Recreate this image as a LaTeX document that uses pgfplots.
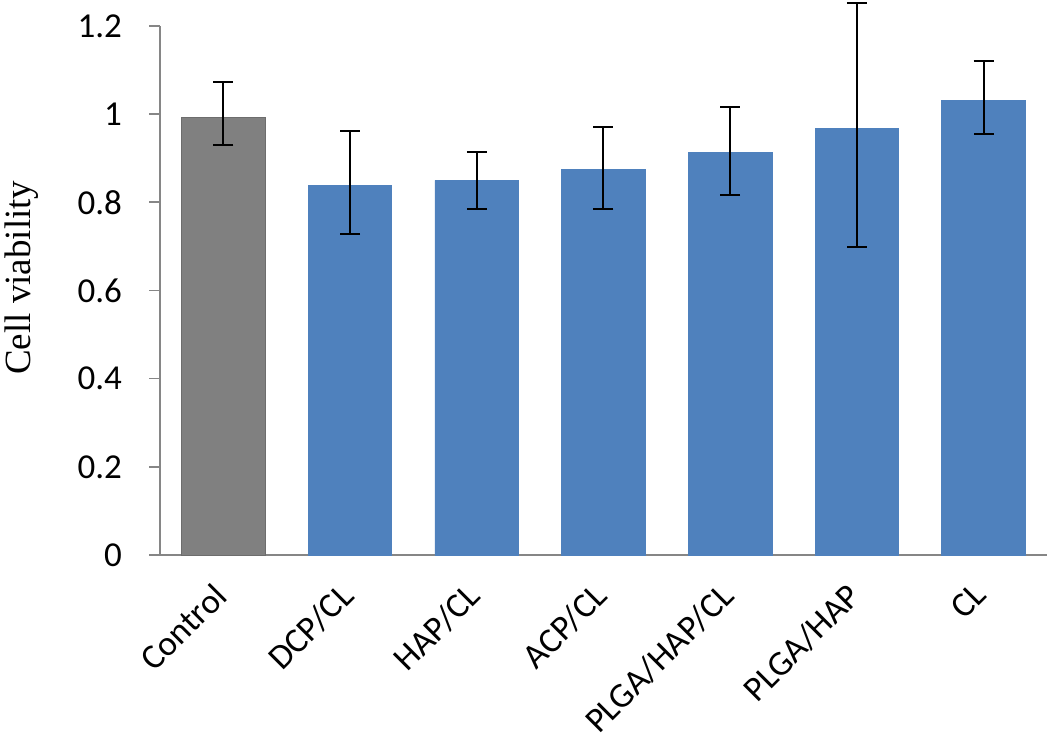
\documentclass[border=0pt]{standalone}
\usepackage{pgfplots}
\pgfplotsset{compat=1.18}
\usepackage{fontspec}
\setmainfont{Carlito}
\newfontfamily\seriffont{Liberation Serif}
\definecolor{barblue}{HTML}{4F81BD}
\definecolor{bargray}{HTML}{808080}
\definecolor{axisgray}{HTML}{868686}

\begin{document}
\begin{tikzpicture}
\begin{axis}[
	scale only axis,
	width=443.5pt,
	height=264.5pt,
	ymin=0, ymax=1.2,
	xmin=-0.5, xmax=6.5,
	ytick={0,0.2,...,1.2},
	xtick={0,...,6},
	xticklabels={Control,DCP/CL,HAP/CL,ACP/CL,PLGA/HAP/CL,PLGA/HAP,CL},
	extra x ticks={-0.5,0.5,...,6.5},
	extra x tick labels={},
	extra x tick style={major tick length=5.5pt, tick style={axisgray, line width=0.8pt}},
	axis x line*=bottom,
	axis y line*=left,
	axis line style={axisgray, line width=0.8pt, -},
	tick align=outside,
	x tick style={draw=none},
	y tick style={axisgray, line width=0.8pt},
	major tick length=5.5pt,
	tick label style={font=\fontsize{17.5}{20}\selectfont},
	/pgf/number format/assume math mode=true,
	yticklabel style={/pgf/number format/fixed, xshift=-10pt},
	xticklabel style={rotate=45, anchor=north east, yshift=2.3pt, xshift=-6pt},
	ylabel={Cell viability},
	ylabel style={font=\seriffont\fontsize{18.5}{20}\selectfont, at={(axis description cs:-0.1556,0.524)}, anchor=center},
	ybar,
	bar width=0.66,
	bar shift=0pt,
	clip=false,
	error bars/error bar style={black, line width=1pt},
	error bars/error mark options={black, line width=1pt, mark size=5pt, rotate=90},
]
\addplot[fill=bargray, draw=bargray!85!black,
	error bars/.cd, y dir=both, y explicit]
coordinates{
	(0, 0.993) += (0, 0.080) -= (0, 0.063)
};
\addplot[fill=barblue, draw=barblue,
	error bars/.cd, y dir=both, y explicit]
coordinates{
	(1, 0.839) += (0, 0.122) -= (0, 0.111)
	(2, 0.850) += (0, 0.064) -= (0, 0.065)
	(3, 0.875) += (0, 0.096) -= (0, 0.090)
	(4, 0.914) += (0, 0.102) -= (0, 0.098)
	(5, 0.968) += (0, 0.284) -= (0, 0.270)
	(6, 1.032) += (0, 0.088) -= (0, 0.077)
};
\coordinate (bl) at (rel axis cs:-0.1804,-0.3686);
\coordinate (tr) at (rel axis cs:1.0034,1.0491);
\end{axis}
\pgfresetboundingbox
\useasboundingbox (bl) rectangle (tr);
\end{tikzpicture}
\end{document}
